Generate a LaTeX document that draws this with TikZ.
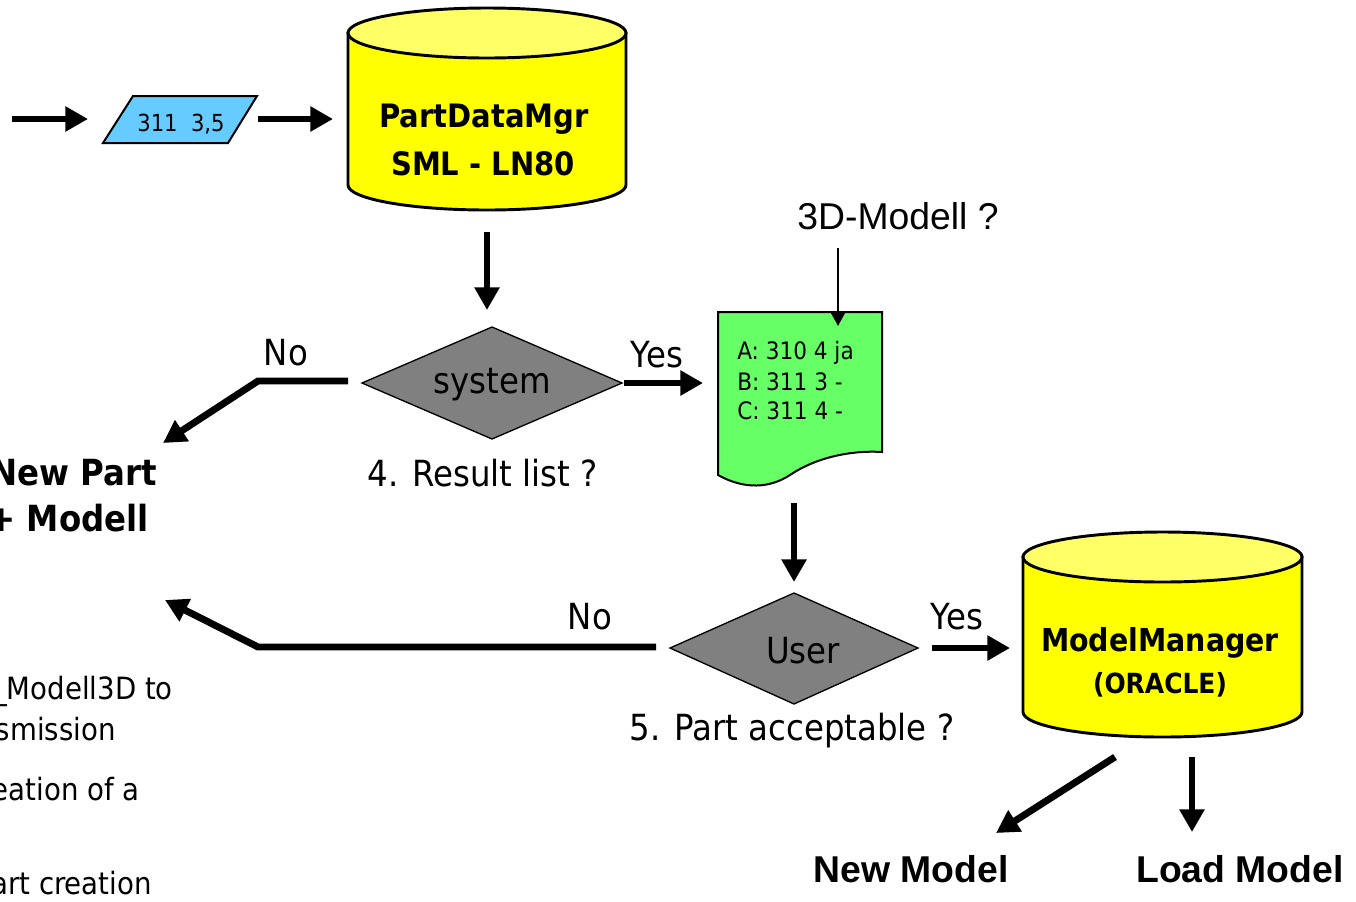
\documentclass[tikz,border=0pt]{standalone}
\usepackage{fontspec}
\setmainfont{DejaVu Sans}
\newfontfamily\tah[FakeStretch=0.9]{DejaVu Sans}
\newfontfamily\ari{Liberation Sans}
\usetikzlibrary{arrows.meta}
\definecolor{cylbody}{HTML}{FFFF00}
\definecolor{cyltop}{HTML}{FFFF66}
\definecolor{parablue}{HTML}{66CCFF}
\definecolor{docgreen}{HTML}{66FF66}
\definecolor{diagray}{HTML}{808080}
\begin{document}
\begin{tikzpicture}[x=0.75pt,y=-0.75pt,
  bigarrow/.style={line width=5.2pt,-{Triangle[length=17pt,width=18pt]}},
  thinarrow/.style={line width=1.5pt,-{Triangle[length=10pt,width=10.5pt]}},
  cylline/.style={line width=2.2pt},
  lbl/.style={inner sep=0pt,font=\tah\fontsize{27}{32}\selectfont},
  cyltxt/.style={inner sep=0pt,font=\tah\bfseries\fontsize{24.2}{29}\selectfont},
  doctxt/.style={inner sep=0pt,anchor=west,font=\tah\fontsize{18}{22}\selectfont},
  frag/.style={inner sep=0pt,anchor=east,font=\tah\fontsize{23}{27}\selectfont},
  bigbold/.style={inner sep=0pt,anchor=east,font=\tah\bfseries\fontsize{27}{32}\selectfont},
  aribold/.style={inner sep=0pt,font=\ari\bfseries\fontsize{28}{32}\selectfont}]
\useasboundingbox (0,0) rectangle (1356,901);
\clip (0,0) rectangle (1356,901);

% ---- parallelogram
\filldraw[fill=parablue,line width=1.5pt] (133,96) -- (257,96) -- (228,143) -- (103,143) -- cycle;
\node[inner sep=0pt,font=\tah\fontsize{17.6}{21}\selectfont] (para) at (181,124) {311\ \ 3,5};

% ---- PartDataMgr cylinder
\filldraw[fill=cylbody,cylline] (348,33) -- (348,185) arc[start angle=180,end angle=0,x radius=139,y radius=25] -- (626,33) -- cycle;
\filldraw[fill=cyltop,cylline] (487,33) ellipse[x radius=139,y radius=25];
\node[cyltxt] (pdm1) at (484,119) {PartDataMgr};
\node[cyltxt] (pdm2) at (483,164) {SML - LN80};

% ---- system diamond
\filldraw[fill=diagray,line width=1pt] (362,383) -- (492,327) -- (622,383) -- (492,439) -- cycle;
\node[lbl] (sys) at (492,385) {system};
\node[lbl] (no1) at (286,353) {No};
\node[lbl] (yes1) at (657,355) {Yes};
\node[lbl] (res) at (483,473) {4. Result list ?};

% ---- document
\filldraw[fill=docgreen,line width=1.5pt] (718,312) -- (882,312) -- (882,452)
  .. controls (850,450) and (815,458) .. (790,475)
  .. controls (770,488) and (745,490) .. (718,475) -- cycle;
\node[doctxt] (la) at (737,353) {A: 310 4 ja};
\node[doctxt] (lb) at (737,382) {B: 311 3 -};
\node[doctxt] (lc) at (737,411) {C: 311 4 -};
\node[inner sep=0pt,font=\ari\fontsize{28}{32}\selectfont] (q3d) at (898,216) {3D-Modell ?};

% ---- user diamond
\filldraw[fill=diagray,line width=1pt] (670,648) -- (794,593) -- (918,648) -- (794,704) -- cycle;
\node[lbl] (usr) at (803,651) {User};
\node[lbl] (no2) at (590,617) {No};
\node[lbl] (yes2) at (957,617) {Yes};
\node[lbl] (acc) at (792,731) {5. Part acceptable ?};

% ---- ModelManager cylinder
\filldraw[fill=cylbody,cylline] (1023,557) -- (1023,712) arc[start angle=180,end angle=0,x radius=139.5,y radius=25] -- (1302,557) -- cycle;
\filldraw[fill=cyltop,cylline] (1162.5,557) ellipse[x radius=139.5,y radius=25];
\node[inner sep=0pt,font=\tah\bfseries\fontsize{23.7}{28}\selectfont] (mm1) at (1160,643) {ModelManager};
\node[inner sep=0pt,font=\tah\bfseries\fontsize{20.8}{25}\selectfont] (mm2) at (1160,685) {(ORACLE)};

\node[aribold] (nm) at (911,869) {New Model};
\node[aribold] (lm) at (1240,869) {Load Model};

% ---- left side texts
\node[bigbold] (np1) at (157,473) {New Part};
\node[bigbold] (np2) at (149,518) {+ Modell};
\node[frag] (f1) at (173,691) {\_Modell3D to};
\node[frag] (f2) at (116,729) {smission};
\node[frag] (f3) at (140,789) {eation of a};
\node[frag] (f4) at (152,883) {art creation};

% ---- connector coordinates
\coordinate (a1s) at (12,119);   \coordinate (a1e) at (88,119);
\coordinate (a2s) at (258,119);  \coordinate (a2e) at (333,119);
\coordinate (a3s) at (487,232);  \coordinate (a3e) at (487,310);
\coordinate (n1s) at (348,381);  \coordinate (n1b) at (258,381); \coordinate (n1e) at (163,443);
\coordinate (y1s) at (624,383);  \coordinate (y1e) at (703,383);
\coordinate (a4s) at (794,503);  \coordinate (a4e) at (794,582);
\coordinate (n2s) at (656,647);  \coordinate (n2b) at (258,647); \coordinate (n2e) at (165,600);
\coordinate (y2s) at (932,648);  \coordinate (y2e) at (1010,648);
\coordinate (m1s) at (1115,757); \coordinate (m1e) at (996,833);
\coordinate (m2s) at (1192,757); \coordinate (m2e) at (1192,832);
\coordinate (t3s) at (838,248);  \coordinate (t3e) at (838,326);

\draw[bigarrow] (a1s) -- (a1e);
\draw[bigarrow] (a2s) -- (a2e);
\draw[bigarrow] (a3s) -- (a3e);
\draw[bigarrow] (n1s) -- (n1b) -- (n1e);
\draw[bigarrow] (y1s) -- (y1e);
\draw[bigarrow] (a4s) -- (a4e);
\draw[bigarrow] (n2s) -- (n2b) -- (n2e);
\draw[bigarrow] (y2s) -- (y2e);
\draw[bigarrow] (m1s) -- (m1e);
\draw[bigarrow] (m2s) -- (m2e);
\draw[thinarrow] (t3s) -- (t3e);
\end{tikzpicture}
\end{document}
